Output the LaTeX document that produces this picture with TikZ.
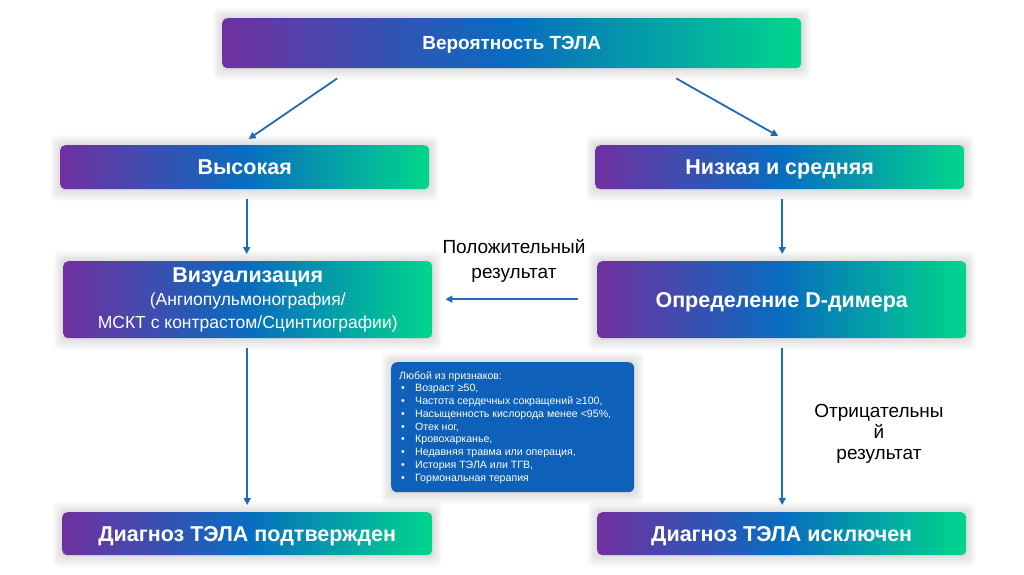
\documentclass[tikz,border=0pt]{standalone}
\usepackage{fontspec}
\setmainfont{Liberation Sans}
\usetikzlibrary{arrows.meta,backgrounds,calc}
\definecolor{gpurple}{RGB}{112,48,160}
\definecolor{gblue}{RGB}{8,108,192}
\definecolor{ggreen}{RGB}{0,214,140}
\definecolor{arrblue}{RGB}{30,108,184}
\definecolor{infoblue}{RGB}{14,96,184}
\tikzset{
  gbox/.style={rounded corners=5pt, left color=gpurple, right color=ggreen, middle color=gblue,
    text=white, font=\bfseries\fontsize{21.5}{24}\selectfont, inner sep=0pt, align=center, anchor=north west},
  oneline/.style={text depth=0pt},
  arr/.style={draw=arrblue, line width=1.8pt, -{Triangle[length=7pt,width=7pt]}},
  lbl/.style={font=\fontsize{19}{24}\selectfont, align=center, text=black},
}
\newcommand{\halo}[1]{%
  \foreach \k in {1,...,8}{%
    \fill[black, opacity=0.014, rounded corners=6pt]
      ([shift={(-1.2*\k pt,1.25*\k pt)}]#1.north west) rectangle ([shift={(1.2*\k pt,-1.5*\k pt)}]#1.south east);
  }%
}
\newcommand{\bitem}{\makebox[16pt][l]{\hspace{2pt}•}}
\begin{document}
\begin{tikzpicture}[x=1pt,y=-1pt]
\useasboundingbox (0,0) rectangle (1024,574);

\node[gbox, oneline, minimum width=579pt, minimum height=50pt, font=\bfseries\fontsize{19}{22}\selectfont] (top) at (222,18) {Вероятность ТЭЛА};
\node[gbox, oneline, minimum width=369pt, minimum height=44pt] (high) at (60,145) {Высокая};
\node[gbox, oneline, minimum width=369pt, minimum height=44pt] (low) at (595,145) {Низкая и средняя};
\node[gbox, minimum width=369pt, minimum height=77pt, font=\bfseries\fontsize{21.5}{23}\selectfont] (vis) at (63,261)
  {Визуализация\\{\mdseries\fontsize{17.5}{22}\selectfont (Ангиопульмонография/}\\{\mdseries\fontsize{17.5}{22}\selectfont МСКТ с контрастом/Сцинтиографии)}};
\node[gbox, oneline, minimum width=369pt, minimum height=77pt] (dd) at (597,261) {Определение D-димера};
\node[gbox, oneline, minimum width=370pt, minimum height=43pt] (conf) at (62,512) {Диагноз ТЭЛА подтвержден};
\node[gbox, oneline, minimum width=369pt, minimum height=43pt] (excl) at (597,512) {Диагноз ТЭЛА исключен};

\node[fill=infoblue, rounded corners=6pt, minimum width=243pt, minimum height=130pt, anchor=north west,
  inner sep=0pt] (info) at (391,362) {};
\node[anchor=north west, text=white, font=\fontsize{10.6}{12.75}\selectfont, align=left, inner sep=0pt]
  (infotext) at (399,371) {Любой из признаков:\\
  \bitem Возраст ≥50,\\
  \bitem Частота сердечных сокращений ≥100,\\
  \bitem Насыщенность кислорода менее <95\%,\\
  \bitem Отек ног,\\
  \bitem Кровохарканье,\\
  \bitem Недавняя травма или операция,\\
  \bitem История ТЭЛА или ТГВ,\\
  \bitem Гормональная терапия};

\node[lbl, font=\fontsize{19}{25}\selectfont] (pos) at (514,261) {Положительный\\результат};
\node[lbl, font=\fontsize{19}{21}\selectfont] (neg) at (879,434) {Отрицательны\\й\\результат};

\begin{scope}[on background layer]
  \fill[white] (0,0) rectangle (1024,574);
  \halo{top}\halo{high}\halo{low}\halo{vis}\halo{dd}\halo{conf}\halo{excl}\halo{info}
\end{scope}

\draw[arr] ([xshift=-174.5pt,yshift=-10pt]top.south) -- ([xshift=4pt,yshift=6pt]high.north);
\draw[arr] ([xshift=164.5pt,yshift=-10pt]top.south) -- ([xshift=-1.5pt,yshift=9pt]low.north);
\draw[arr] ([xshift=2pt,yshift=-10pt]high.south) -- ([xshift=-1pt,yshift=7pt]vis.north);
\draw[arr] ([xshift=2.5pt,yshift=-10pt]low.south) -- ([xshift=0.5pt,yshift=7pt]dd.north);
\draw[arr] ([xshift=-0.5pt,yshift=-10pt]vis.south) -- ([yshift=7pt]conf.north);
\draw[arr] ([xshift=0.5pt,yshift=-10pt]dd.south) -- ([xshift=0.5pt,yshift=7pt]excl.north);
\draw[arr] ([xshift=-19pt,yshift=0.5pt]dd.west) -- ([xshift=13pt,yshift=0.5pt]vis.east);
\end{tikzpicture}
\end{document}
